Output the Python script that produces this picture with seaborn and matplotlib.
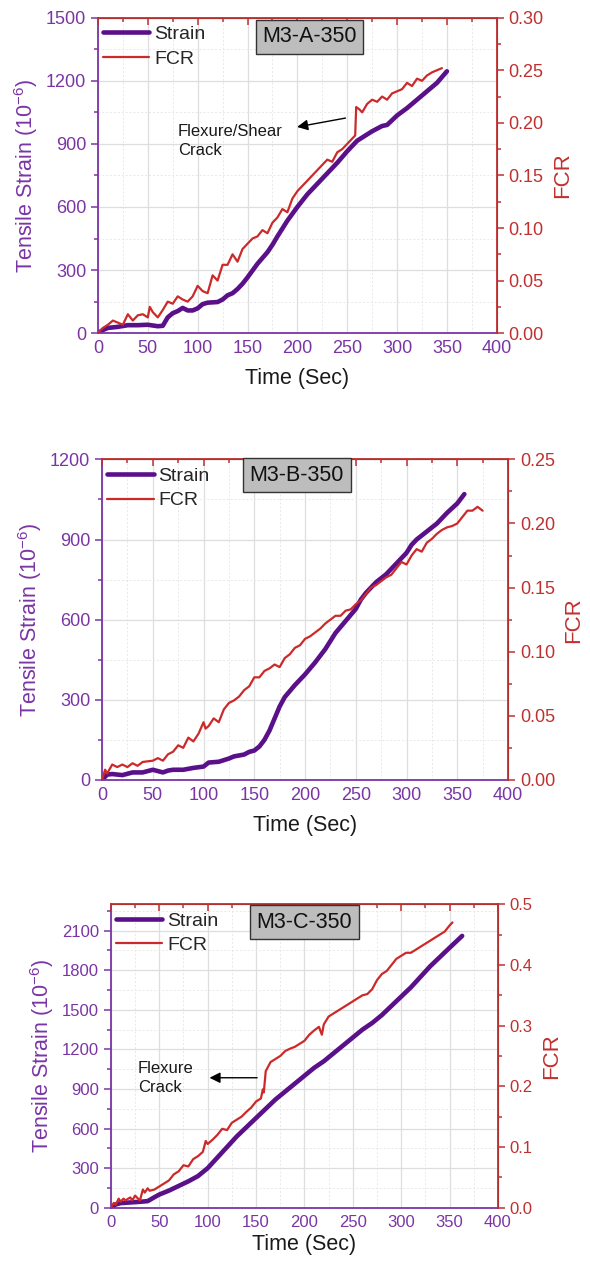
import matplotlib
matplotlib.use("Agg")
import matplotlib.pyplot as plt
from matplotlib.ticker import MultipleLocator, AutoMinorLocator
import seaborn as sns
import pandas as pd

sns.set_style("white")
plt.rcParams['font.family'] = ['Liberation Sans', 'DejaVu Sans']
plt.rcParams['mathtext.default'] = 'regular'

# ---- data ----
# M3-A-350
a_strain_t = [0, 5, 10, 20, 30, 40, 50, 60, 65, 70, 75, 80, 85, 90, 95, 100, 105, 110, 120, 125, 130, 135, 140,
              145, 150, 160, 170, 175, 180, 190, 200, 210, 225, 240, 250, 260, 275, 285, 290, 300, 310, 325, 340, 350]
a_strain = [0, 15, 25, 30, 38, 38, 40, 33, 35, 75, 95, 105, 120, 108, 108, 118, 138, 145, 148, 160, 180, 190, 210,
            235, 265, 330, 385, 420, 460, 535, 600, 660, 735, 810, 865, 915, 960, 985, 990, 1035, 1070, 1130, 1190, 1245]
a_fcr_t = [0, 5, 10, 15, 20, 25, 30, 35, 40, 45, 50, 52, 55, 60, 65, 70, 75, 80, 85, 90, 95, 100, 105, 110, 115,
           120, 125, 130, 135, 140, 145, 150, 155, 160, 165, 170, 175, 180, 185, 190, 195, 200, 205, 210, 215, 220,
           225, 230, 235, 240, 245, 250, 255, 258, 259, 262, 265, 270, 275, 280, 285, 290, 295, 300, 305, 310, 315,
           320, 325, 330, 335, 340, 345]
a_fcr = [0, 0.005, 0.008, 0.012, 0.010, 0.008, 0.018, 0.012, 0.017, 0.018, 0.015, 0.025, 0.020, 0.015, 0.022,
         0.030, 0.028, 0.035, 0.032, 0.030, 0.035, 0.045, 0.040, 0.038, 0.055, 0.050, 0.065, 0.065, 0.075, 0.068,
         0.080, 0.085, 0.090, 0.092, 0.098, 0.095, 0.105, 0.110, 0.118, 0.115, 0.128, 0.135, 0.140, 0.145, 0.150,
         0.155, 0.160, 0.165, 0.163, 0.172, 0.175, 0.180, 0.185, 0.188, 0.215, 0.213, 0.210, 0.218, 0.222, 0.220,
         0.225, 0.222, 0.228, 0.230, 0.232, 0.238, 0.235, 0.242, 0.240, 0.245, 0.248, 0.250, 0.252]

# M3-B-350
b_strain_t = [0, 5, 10, 20, 30, 40, 50, 60, 65, 70, 80, 90, 100, 105, 115, 125, 130, 140, 145, 150, 155, 160, 165,
              170, 175, 180, 190, 200, 210, 220, 230, 240, 250, 255, 260, 270, 280, 290, 300, 305, 310, 320, 330,
              340, 350, 357]
b_strain = [0, 20, 22, 18, 28, 28, 38, 28, 35, 38, 38, 45, 50, 65, 68, 80, 88, 95, 105, 110, 125, 150, 185, 230,
            275, 310, 355, 395, 440, 490, 550, 595, 640, 675, 700, 740, 770, 810, 850, 880, 900, 930, 960, 1000,
            1035, 1070]
b_fcr_t = [0, 3, 5, 10, 15, 20, 25, 30, 35, 40, 50, 55, 60, 65, 70, 75, 80, 85, 90, 95, 100, 102, 105, 110, 115,
           120, 125, 130, 135, 140, 145, 150, 155, 160, 165, 170, 175, 180, 185, 190, 195, 200, 205, 210, 215, 220,
           225, 230, 235, 240, 245, 250, 255, 260, 265, 270, 275, 280, 285, 290, 295, 300, 305, 310, 315, 320, 325,
           330, 335, 340, 345, 350, 355, 360, 365, 370, 375]
b_fcr = [0, 0.008, 0.005, 0.012, 0.010, 0.012, 0.010, 0.013, 0.011, 0.014, 0.015, 0.017, 0.015, 0.020, 0.022,
         0.027, 0.025, 0.033, 0.030, 0.036, 0.045, 0.040, 0.042, 0.048, 0.045, 0.055, 0.060, 0.062, 0.065, 0.070,
         0.073, 0.080, 0.080, 0.085, 0.087, 0.090, 0.088, 0.095, 0.098, 0.103, 0.105, 0.110, 0.112, 0.115, 0.118,
         0.122, 0.125, 0.128, 0.128, 0.132, 0.133, 0.137, 0.140, 0.145, 0.150, 0.152, 0.155, 0.158, 0.160, 0.165,
         0.170, 0.168, 0.175, 0.180, 0.178, 0.185, 0.188, 0.192, 0.195, 0.197, 0.198, 0.200, 0.205, 0.210, 0.210,
         0.213, 0.210]

# M3-C-350
c_strain_t = [0, 5, 10, 20, 30, 38, 45, 50, 60, 70, 80, 90, 100, 110, 120, 130, 140, 150, 160, 170, 180, 190,
              200, 210, 220, 230, 240, 250, 260, 270, 280, 290, 300, 310, 320, 330, 340, 350, 363]
c_strain = [0, 25, 35, 40, 45, 50, 80, 100, 130, 165, 200, 240, 300, 380, 460, 540, 610, 680, 750, 820, 880,
            940, 1000, 1060, 1110, 1170, 1230, 1290, 1350, 1400, 1460, 1530, 1600, 1670, 1750, 1830, 1900, 1970, 2060]
c_fcr_t = [0, 3, 5, 8, 10, 13, 15, 20, 22, 25, 28, 30, 33, 35, 38, 40, 45, 50, 55, 60, 65, 70, 75, 80, 85, 90,
           95, 98, 100, 105, 110, 115, 120, 125, 130, 135, 140, 145, 150, 155, 157, 158, 160, 165, 170, 175, 180,
           185, 190, 195, 200, 205, 210, 215, 218, 220, 225, 230, 235, 240, 245, 250, 255, 260, 265, 270, 275, 280,
           285, 290, 295, 300, 305, 310, 315, 320, 325, 330, 335, 340, 345, 350, 353]
c_fcr = [0, 0.008, 0.005, 0.015, 0.010, 0.015, 0.012, 0.017, 0.012, 0.020, 0.015, 0.012, 0.030, 0.025, 0.032,
         0.028, 0.030, 0.035, 0.040, 0.045, 0.055, 0.060, 0.070, 0.068, 0.080, 0.085, 0.092, 0.110, 0.105, 0.112,
         0.120, 0.130, 0.128, 0.140, 0.145, 0.150, 0.158, 0.165, 0.175, 0.180, 0.195, 0.190, 0.225, 0.240, 0.245,
         0.250, 0.258, 0.262, 0.265, 0.270, 0.275, 0.285, 0.292, 0.298, 0.285, 0.302, 0.315, 0.320, 0.325, 0.330,
         0.335, 0.340, 0.345, 0.350, 0.352, 0.360, 0.375, 0.385, 0.390, 0.400, 0.410, 0.415, 0.420, 0.420, 0.425,
         0.430, 0.435, 0.440, 0.445, 0.450, 0.455, 0.465, 0.470]

labels = ["M3-A-350", "M3-B-350", "M3-C-350"]

# colours
PURPLE = "#5a1089"
PURPLE_AX = "#7a35a5"
RED = "#cc2a2a"
RED_AX = "#c0302f"

fig = plt.figure(figsize=(5.9, 12.62), dpi=100)

# (left, bottom, width, height) for each panel
boxes = [(0.166, 0.736, 0.676, 0.250),
         (0.173, 0.382, 0.688, 0.254),
         (0.188, 0.043, 0.656, 0.2405)]
ylims = [(0, 1500, 300), (0, 1200, 300), (0, 2300, 300)]
rlims = [(0, 0.30, 0.05, "%.2f"), (0, 0.25, 0.05, "%.2f"), (0, 0.5, 0.1, "%.1f")]
tag_pos = [(0.53, 0.94), (0.48, 0.95), (0.50, 0.94)]
tick_fs = [13, 13, 12]
xlab_pad = [8, 8, 3]

panels = [(a_strain_t, a_strain, a_fcr_t, a_fcr),
          (b_strain_t, b_strain, b_fcr_t, b_fcr),
          (c_strain_t, c_strain, c_fcr_t, c_fcr)]

main_axes = []
for i, (st, sv, ft, fv) in enumerate(panels):
    ax = fig.add_axes(boxes[i])
    ax2 = ax.twinx()
    main_axes.append(ax)

    df_s = pd.DataFrame({"t": st, "strain": sv})
    df_f = pd.DataFrame({"t": ft, "fcr": fv})
    sns.lineplot(data=df_s, x="t", y="strain", ax=ax, color=PURPLE, lw=3.3, legend=False)
    sns.lineplot(data=df_f, x="t", y="fcr", ax=ax2, color=RED, lw=1.6, legend=False)

    ax.set_xlim(0, 400)
    ax.set_ylim(ylims[i][0], ylims[i][1])
    ax.xaxis.set_major_locator(MultipleLocator(50))
    ax.xaxis.set_minor_locator(MultipleLocator(25))
    ax.yaxis.set_major_locator(MultipleLocator(ylims[i][2]))
    ax.yaxis.set_minor_locator(AutoMinorLocator(2))
    ax2.set_ylim(rlims[i][0], rlims[i][1])
    ax2.yaxis.set_major_locator(MultipleLocator(rlims[i][2]))
    ax2.yaxis.set_minor_locator(AutoMinorLocator(2))
    ax2.yaxis.set_major_formatter(plt.FormatStrFormatter(rlims[i][3]))

    # grid
    ax.grid(True, which="major", color="#dedede", lw=0.9)
    ax.grid(True, which="minor", color="#e8e8e8", lw=0.7, ls=(0, (2, 2)))
    ax.set_axisbelow(True)

    # spines
    for s in ["left", "bottom"]:
        ax.spines[s].set_color(PURPLE_AX)
        ax.spines[s].set_linewidth(1.3)
    for s in ["right", "top"]:
        ax2.spines[s].set_color(RED_AX)
        ax2.spines[s].set_linewidth(1.3)
    ax2.spines["left"].set_visible(False)
    ax2.spines["bottom"].set_visible(False)

    ax.tick_params(axis="x", which="both", direction="in", colors=PURPLE_AX, labelsize=tick_fs[i],
                   top=False, width=1.1, pad=5)
    ax.tick_params(axis="x", which="major", length=5)
    ax.tick_params(axis="x", which="minor", length=3)
    ax.tick_params(axis="y", which="both", direction="out", colors=PURPLE_AX, labelsize=tick_fs[i], width=1.1)
    ax.tick_params(axis="y", which="major", length=5)
    ax.tick_params(axis="y", which="minor", length=3)

    # red ticks along the top edge
    ax2.xaxis.set_visible(True)
    ax2.tick_params(axis="x", which="both", direction="in", colors=RED_AX, top=True, bottom=False,
                    labeltop=False, labelbottom=False, width=1.1)
    ax2.tick_params(axis="x", which="major", length=5)
    ax2.tick_params(axis="x", which="minor", length=3)
    ax2.set_xlabel("")

    ax2.tick_params(axis="y", which="both", direction="out", colors=RED_AX, labelsize=tick_fs[i], width=1.1)
    ax2.tick_params(axis="y", which="major", length=5)
    ax2.tick_params(axis="y", which="minor", length=3)

    ax.set_xlabel("Time (Sec)", fontsize=15.5, color="#1a1a1a", labelpad=xlab_pad[i])
    ax.set_ylabel("Tensile Strain (10$^{-6}$)", fontsize=15.5, color=PURPLE_AX, labelpad=4)
    ax2.set_ylabel("FCR", fontsize=16, color=RED_AX, labelpad=6)

    # legend
    handles = [ax.get_lines()[0], ax2.get_lines()[0]]
    ax2.legend(handles, ["Strain", "FCR"], loc="upper left", frameon=False, fontsize=14,
               handlelength=2.4, handletextpad=0.25, borderaxespad=0.15, borderpad=0.1,
               labelspacing=0.35, bbox_to_anchor=(0.0, 0.99))

    ax2.text(tag_pos[i][0], tag_pos[i][1], labels[i], transform=ax.transAxes, ha="center", va="center",
             fontsize=15.5, color="#111111",
             bbox=dict(boxstyle="square,pad=0.3", facecolor="#bdbdbd", edgecolor="#333333", lw=1.0))

# annotations (in strain / time coordinates)
ax_a = main_axes[0]
ax_a.annotate("", xy=(197, 978), xytext=(251, 1025),
              arrowprops=dict(arrowstyle="-|>", color="black", lw=1.0, mutation_scale=16))
ax_a.text(80, 915, "Flexure/Shear\nCrack", fontsize=12, ha="left", va="center", color="#1a1a1a",
          linespacing=1.35)

ax_c = main_axes[2]
ax_c.annotate("", xy=(99, 985), xytext=(154, 985),
              arrowprops=dict(arrowstyle="-|>", color="black", lw=1.0, mutation_scale=16))
ax_c.text(28, 985, "Flexure\nCrack", fontsize=12, ha="left", va="center", color="#1a1a1a",
          linespacing=1.35)

fig.savefig("out.png", dpi=100)
